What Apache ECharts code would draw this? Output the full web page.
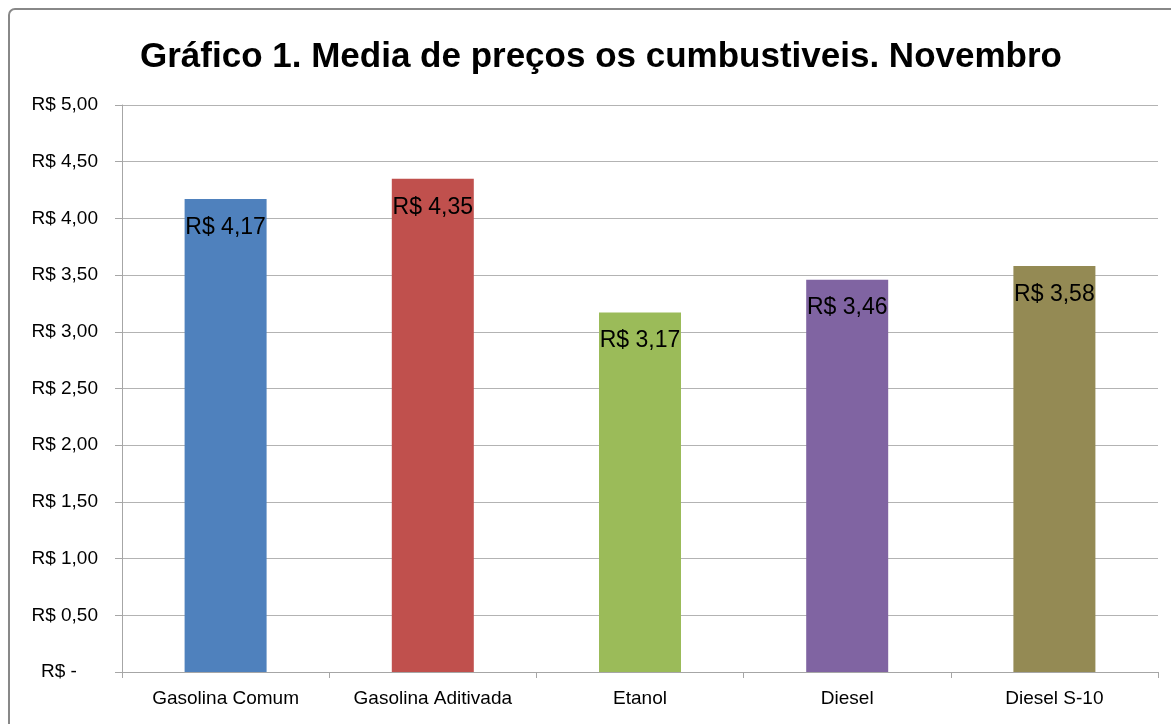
<!DOCTYPE html>
<html>
<head>
<meta charset="utf-8">
<script src="https://cdn.jsdelivr.net/npm/echarts@6/dist/echarts.min.js"></script>
<style>
  html, body { margin: 0; padding: 0; background: #fff; }
  #chart { width: 1171px; height: 724px; }
</style>
</head>
<body>
<div id="chart"></div>
<script>
const categories = ['Gasolina Comum', 'Gasolina Aditivada', 'Etanol', 'Diesel', 'Diesel S-10']
const prices = [4.17, 4.35, 3.17, 3.46, 3.58]
const barColors = ['#4F81BD', '#C0504D', '#9BBB59', '#8064A2', '#948A54']
const titleText = 'Gráfico 1. Media de preços os cumbustiveis. Novembro'

const fontFamily = '"Liberation Sans", "Noto Sans", sans-serif'

// R$ 4,17 style, zero shown as "R$ -" like the accounting format
function brl(v) {
  if (v === 0) return 'R$ -    '
  return 'R$ ' + v.toFixed(2).replace('.', ',')
}

const chart = echarts.init(document.getElementById('chart'))

chart.setOption({
  animation: false,
  title: {
    text: titleText,
    left: 135,
    top: 35,
    textStyle: { fontFamily, fontSize: 35, fontWeight: 'bold', color: '#000' },
  },
  graphic: [{
    type: 'rect',
    shape: { x: 9, y: 9, width: 1300, height: 900, r: 6 },
    style: { fill: 'none', stroke: '#888', lineWidth: 2 },
  }],
  grid: { left: 122, right: 13, top: 105, bottom: 52 },
  xAxis: {
    type: 'category',
    data: categories,
    axisLine: { lineStyle: { color: '#A6A6A6', width: 1 } },
    axisTick: { show: true, length: 6, lineStyle: { color: '#A6A6A6' } },
    axisLabel: { fontFamily, fontSize: 19, color: '#000', margin: 17 },
  },
  yAxis: {
    type: 'value',
    min: 0,
    max: 5,
    interval: 0.5,
    axisLine: { show: true, lineStyle: { color: '#A6A6A6', width: 1 } },
    axisTick: { show: true, length: 7, lineStyle: { color: '#A6A6A6' } },
    splitLine: { lineStyle: { color: '#B3B3B3', width: 1 } },
    axisLabel: { fontFamily, fontSize: 19, color: '#000', margin: 24, formatter: brl },
  },
  series: [{
    type: 'bar',
    barWidth: 82,
    data: prices.map((v, i) => ({ value: v, itemStyle: { color: barColors[i] } })),
    label: {
      show: true,
      position: 'insideTop',
      distance: 17,
      fontFamily,
      fontSize: 23,
      color: '#000',
      formatter: (p) => brl(p.value),
    },
  }],
})
</script>
</body>
</html>
